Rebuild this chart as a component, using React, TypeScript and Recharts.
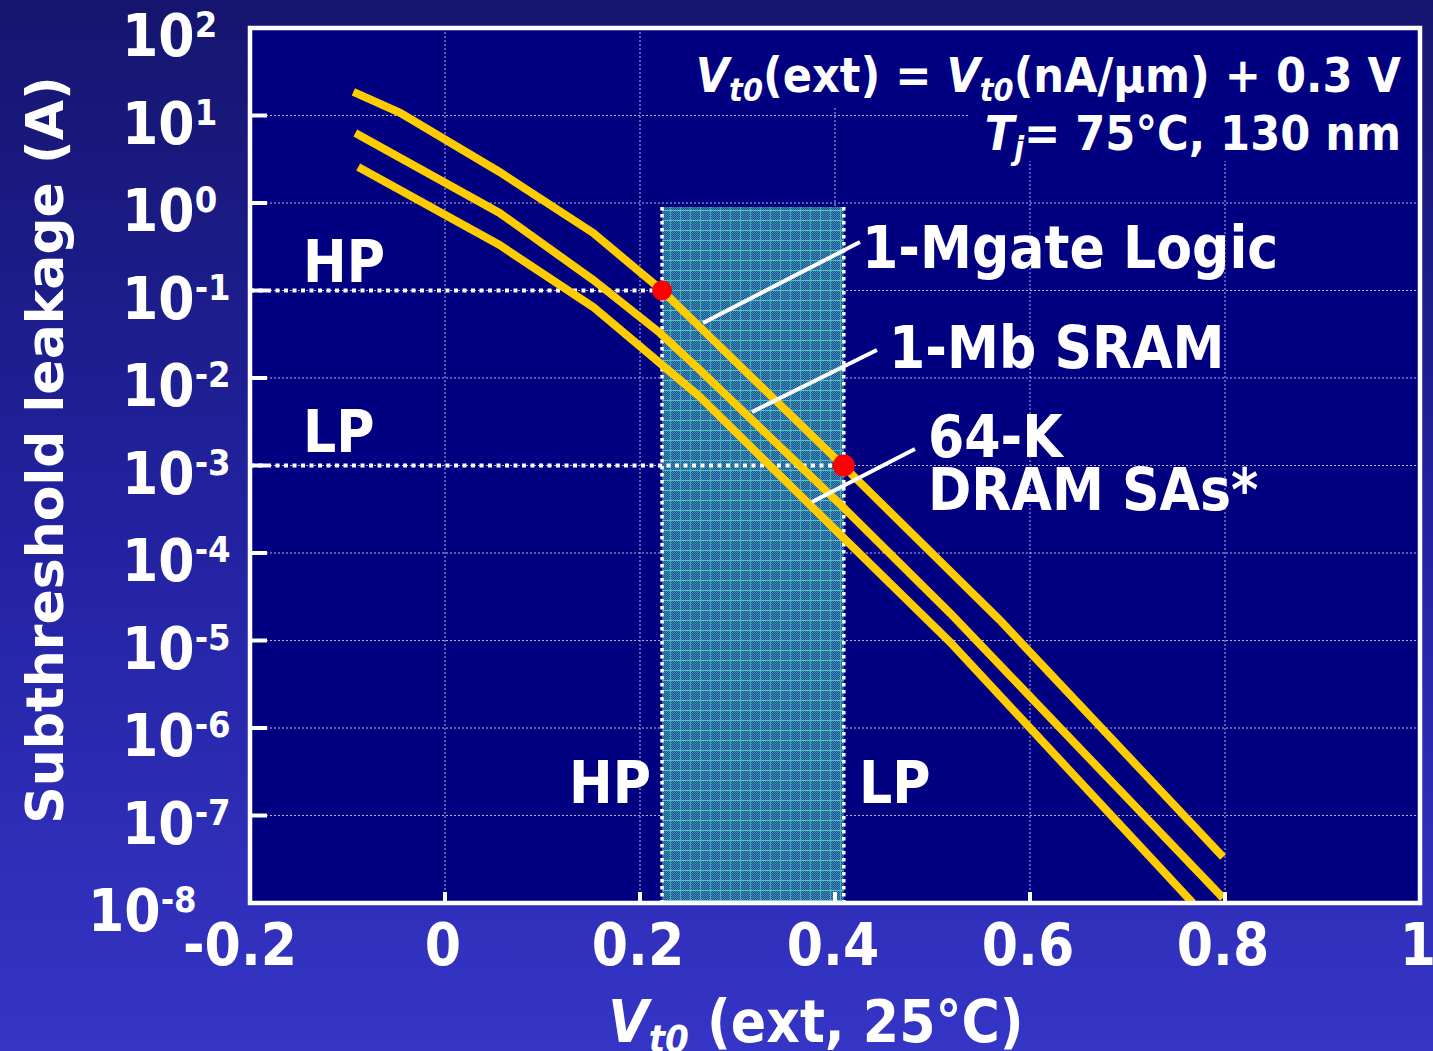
import React from 'react';
import {
  LineChart,
  Line,
  XAxis,
  YAxis,
  CartesianGrid,
  ReferenceArea,
  ReferenceLine,
  ReferenceDot,
} from 'recharts';

// ---- axes ----
const xTicks = [-0.2, 0, 0.2, 0.4, 0.6, 0.8, 1];
const xTickLabels = ['-0.2', '0', '0.2', '0.4', '0.6', '0.8', '1'];
const yTicks = [1e2, 1e1, 1, 1e-1, 1e-2, 1e-3, 1e-4, 1e-5, 1e-6, 1e-7, 1e-8];
const yTickExponents = ['2', '1', '0', '-1', '-2', '-3', '-4', '-5', '-6', '-7', '-8'];

// ---- curves: Vt0 (ext, 25°C) in V vs subthreshold leakage in A ----
const logicVt = [-0.094, -0.046, 0.056, 0.152, 0.2226, 0.408, 0.569, 0.798];
const logicLeak = [18.6, 10.7, 2.26, 0.454, 0.1, 1.0e-3, 1.71e-5, 3.36e-8];

const sramVt = [-0.092, 0.056, 0.152, 0.2205, 0.2615, 0.408, 0.518, 0.798];
const sramLeak = [6.3, 0.77, 0.132, 0.0327, 0.0123, 3.36e-4, 2.06e-5, 1.14e-8];

const dramVt = [-0.089, 0.056, 0.152, 0.2205, 0.2615, 0.408, 0.518, 0.767];
const dramLeak = [2.58, 0.331, 0.0647, 0.0148, 6.07e-3, 1.52e-4, 9.6e-6, 1.0e-8];

// ---- HP / LP operating points ----
const hpVt = 0.2226;
const hpLeak = 0.1;
const lpVt = 0.409;
const lpLeak = 1e-3;
const bandTop = 0.9;

// ---- leader lines from the curve names to the curves ----
const leaderFrom = [
  { x: 0.4256, y: 0.358 },
  { x: 0.443, y: 0.0209 },
  { x: 0.482, y: 1.545e-3 },
];
const leaderTo = [
  { x: 0.2646, y: 0.0425 },
  { x: 0.3149, y: 4.09e-3 },
  { x: 0.3764, y: 3.83e-4 },
];

const toPoints = (vt: number[], leak: number[]) => vt.map((x, i) => ({ x, y: leak[i] }));
const logicData = toPoints(logicVt, logicLeak);
const sramData = toPoints(sramVt, sramLeak);
const dramData = toPoints(dramVt, dramLeak);

const W = 1433;
const H = 1051;
const FONT = '"DejaVu Sans Condensed", "DejaVu Sans", sans-serif';
const FONT_WIDE = '"DejaVu Sans", sans-serif';
const NAVY = '#000080';
const CURVE = '#FFCC00';

const YTick = (props: any) => {
  const { y, payload } = props;
  const idx = yTicks.findIndex((t) => Math.abs(Math.log10(t) - Math.log10(payload.value)) < 1e-6);
  const exp = yTickExponents[idx] ?? '';
  const x = exp === '-8' ? 88 : 122;
  return (
    <text
      x={x}
      y={y + 28}
      fill="#fff"
      fontFamily={FONT}
      fontWeight="bold"
      fontSize={58}
      textAnchor="start"
    >
      10
      <tspan fontSize={36} dy={-19}>
        {exp}
      </tspan>
    </text>
  );
};

const XTick = (props: any) => {
  const { x, payload } = props;
  const idx = xTicks.findIndex((t) => Math.abs(t - payload.value) < 1e-9);
  const label = xTickLabels[idx] ?? '';
  return (
    <text
      x={label.startsWith('-') ? x - 10 : x - 2}
      y={965}
      fill="#fff"
      fontFamily={FONT}
      fontWeight="bold"
      fontSize={58}
      textAnchor="middle"
    >
      {label}
    </text>
  );
};

const labelStyle = {
  fill: '#fff',
  fontFamily: FONT,
  fontWeight: 'bold' as const,
};

export default function App() {
  return (
    <div
      style={{
        position: 'absolute',
        left: 0,
        top: 0,
        width: W,
        height: H,
        overflow: 'hidden',
        background: 'linear-gradient(to bottom, #15156f 0%, #2222a0 50%, #3535c6 100%)',
      }}
    >
      <svg width={0} height={0} style={{ position: 'absolute' }}>
        <defs>
          <pattern id="fineChecker" width={2} height={2} patternUnits="userSpaceOnUse">
            <rect width={2} height={2} fill="#22489e" />
            <rect x={0} y={0} width={1} height={1} fill="#3a96a8" />
            <rect x={1} y={1} width={1} height={1} fill="#3a96a8" />
          </pattern>
          <pattern id="bandFill" width={10} height={10} patternUnits="userSpaceOnUse">
            <rect width={10} height={10} fill="url(#fineChecker)" />
            <rect x={0} y={0} width={10} height={1} fill="#4ccabe" />
            <rect x={0} y={0} width={1} height={10} fill="#3fb0b8" />
          </pattern>
        </defs>
      </svg>

      <LineChart
        width={W}
        height={H}
        margin={{ top: 28, right: 13, bottom: 0, left: 0 }}
      >
        <CartesianGrid
          fill={NAVY}
          stroke="#b4b4e6"
          strokeWidth={1}
          strokeDasharray="2 2"
        />
        <XAxis
          dataKey="x"
          type="number"
          domain={[-0.2, 1]}
          ticks={xTicks}
          interval={0}
          allowDataOverflow
          axisLine={false}
          tickLine={{ stroke: '#fff', strokeWidth: 4 }}
          tickSize={-11}
          tick={<XTick />}
          height={148}
        />
        <YAxis
          dataKey="y"
          type="number"
          scale="log"
          domain={[1e-8, 1e2]}
          ticks={yTicks}
          interval={0}
          allowDataOverflow
          axisLine={false}
          tickLine={{ stroke: '#fff', strokeWidth: 4 }}
          tickSize={-17}
          tick={<YTick />}
          width={250}
        />

        <ReferenceArea
          x1={hpVt}
          x2={lpVt}
          y1={1e-8}
          y2={bandTop}
          fill="url(#bandFill)"
          fillOpacity={1}
          stroke="none"
          ifOverflow="visible"
        />

        <ReferenceLine
          segment={[
            { x: hpVt, y: bandTop },
            { x: hpVt, y: 1e-8 },
          ]}
          stroke="#fff"
          strokeWidth={3.5}
          strokeDasharray="3.5 3.5"
          ifOverflow="visible"
        />
        <ReferenceLine
          segment={[
            { x: lpVt, y: bandTop },
            { x: lpVt, y: 1e-8 },
          ]}
          stroke="#fff"
          strokeWidth={3.5}
          strokeDasharray="3.5 3.5"
          ifOverflow="visible"
        />
        <ReferenceLine
          segment={[
            { x: -0.2, y: hpLeak },
            { x: hpVt, y: hpLeak },
          ]}
          stroke="#fff"
          strokeWidth={4}
          strokeDasharray="4 4.5"
          ifOverflow="visible"
        />
        <ReferenceLine
          segment={[
            { x: -0.2, y: lpLeak },
            { x: lpVt, y: lpLeak },
          ]}
          stroke="#fff"
          strokeWidth={4}
          strokeDasharray="4 4.5"
          ifOverflow="visible"
        />

        <Line
          data={dramData}
          dataKey="y"
          type="linear"
          stroke={CURVE}
          strokeWidth={8}
          dot={false}
          activeDot={false}
          isAnimationActive={false}
        />
        <Line
          data={sramData}
          dataKey="y"
          type="linear"
          stroke={CURVE}
          strokeWidth={8}
          dot={false}
          activeDot={false}
          isAnimationActive={false}
        />
        <Line
          data={logicData}
          dataKey="y"
          type="linear"
          stroke={CURVE}
          strokeWidth={8}
          dot={false}
          activeDot={false}
          isAnimationActive={false}
        />

        {leaderFrom.map((p, i) => (
          <ReferenceLine
            key={i}
            segment={[p, leaderTo[i]]}
            stroke="#fff"
            strokeWidth={4}
            ifOverflow="visible"
          />
        ))}

        <ReferenceDot x={hpVt} y={hpLeak} r={10} fill="#ff0000" stroke="none" ifOverflow="visible" />
        <ReferenceDot x={lpVt} y={lpLeak} r={11} fill="#ff0000" stroke="none" ifOverflow="visible" />
      </LineChart>

      <svg
        width={W}
        height={H}
        style={{ position: 'absolute', left: 0, top: 0, pointerEvents: 'none' }}
      >
        {/* text panel for the definitions, masking the grid behind it */}
        <rect x={690} y={31} width={726} height={75} fill={NAVY} />
        <rect x={968} y={105} width={448} height={56} fill={NAVY} />

        {/* plot frame */}
        <rect x={250} y={28} width={1170} height={875} fill="none" stroke="#fff" strokeWidth={4.5} />

        <text x={1401} y={92} textAnchor="end" fontSize={48} style={labelStyle}>
          <tspan fontStyle="italic">V</tspan>
          <tspan fontStyle="italic" fontSize={32} dy={9}>t0</tspan>
          <tspan dy={-9}>(ext) = </tspan>
          <tspan fontStyle="italic">V</tspan>
          <tspan fontStyle="italic" fontSize={32} dy={9}>t0</tspan>
          <tspan dy={-9}>(nA/μm) + 0.3 V</tspan>
        </text>
        <text x={1401} y={150} textAnchor="end" fontSize={48} style={labelStyle}>
          <tspan fontStyle="italic">T</tspan>
          <tspan fontStyle="italic" fontSize={32} dy={9}>j</tspan>
          <tspan dy={-9}>= 75°C, 130 nm</tspan>
        </text>

        <text x={303} y={282} fontSize={58} style={labelStyle}>HP</text>
        <text x={303} y={452} fontSize={58} style={labelStyle}>LP</text>
        <text x={569} y={803} fontSize={58} style={labelStyle}>HP</text>
        <text x={859} y={803} fontSize={58} style={labelStyle}>LP</text>

        <text x={862} y={268} fontSize={58} style={labelStyle}>1-Mgate Logic</text>
        <text x={889} y={368} fontSize={58} style={labelStyle}>1-Mb SRAM</text>
        <text x={928} y={457} fontSize={58} style={labelStyle}>64-K</text>
        <text x={928} y={510} fontSize={58} style={labelStyle}>DRAM SAs*</text>

        <text
          transform="translate(63,450) rotate(-90)"
          textAnchor="middle"
          fontSize={52}
          fill="#fff"
          fontFamily={FONT_WIDE}
          fontWeight="bold"
        >
          Subthreshold leakage (A)
        </text>

        <text x={816} y={1042} textAnchor="middle" fontSize={58} style={labelStyle}>
          <tspan fontStyle="italic">V</tspan>
          <tspan fontStyle="italic" fontSize={38} dy={10}>t0</tspan>
          <tspan dy={-10}> (ext, 25°C)</tspan>
        </text>
      </svg>
    </div>
  );
}
